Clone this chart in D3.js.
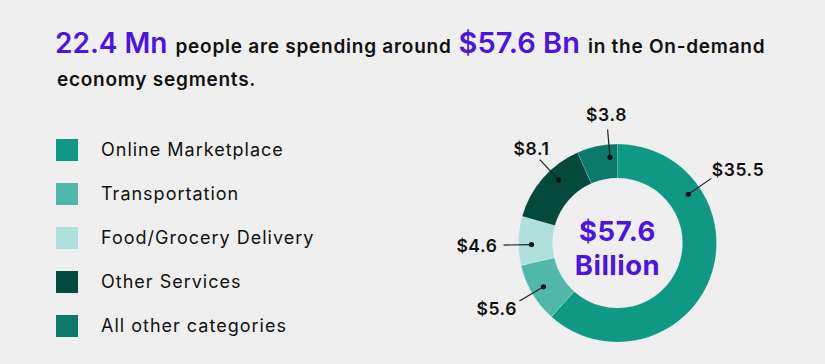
<!DOCTYPE html>
<html>
<head>
<meta charset="utf-8">
<script src="https://cdn.jsdelivr.net/npm/d3@7"></script>
<style>
  body { margin: 0; background: #efefef; }
  svg { display: block; font-family: Inter, "Noto Sans", sans-serif; }
</style>
</head>
<body>
<svg id="chart" width="825" height="364"></svg>
<script>
// data
var categories = ["Online Marketplace", "Transportation", "Food/Grocery Delivery", "Other Services", "All other categories"];
var values = [35.5, 5.6, 4.6, 8.1, 3.8];
var colors = ["#0f9884", "#4fb8ab", "#b0e0dc", "#03493e", "#0b7a6b"];
var labelAt = [0.25, 0.5, 0.42, 0.62, 0.79];   // where along each slice the callout sits
var totalText = "$57.6";
var totalUnit = "Billion";

var purple = "#4b14e3";

var svg = d3.select("#chart"),
    width = +svg.attr("width"),
    height = +svg.attr("height");

svg.append("rect").attr("width", width).attr("height", height).attr("fill", "#efefef");

// headline
var line1 = svg.append("text")
    .attr("x", 55).attr("y", 53)
    .attr("font-weight", 600)
    .attr("fill", "#111");
line1.append("tspan").attr("font-size", 28).attr("fill", purple).text("22.4 Mn");
line1.append("tspan").attr("font-size", 19).attr("letter-spacing", 0.75).attr("dx", 8).text("people are spending around");
line1.append("tspan").attr("font-size", 29).attr("fill", purple).attr("dx", 7).text("$57.6 Bn");
line1.append("tspan").attr("font-size", 19).attr("letter-spacing", 0.75).attr("dx", 8).text("in the On-demand");

svg.append("text")
    .attr("x", 57).attr("y", 86)
    .attr("font-size", 19).attr("letter-spacing", 0.75).attr("font-weight", 600).attr("fill", "#111")
    .text("economy segments.");

// legend
var legendY = d3.scalePoint().domain(categories).range([150, 326]);

var legend = svg.append("g").selectAll("g")
    .data(categories)
    .enter().append("g")
      .attr("transform", function(d) { return "translate(56," + legendY(d) + ")"; });

legend.append("rect")
    .attr("x", 0).attr("y", -11)
    .attr("width", 22).attr("height", 22)
    .attr("fill", function(d, i) { return colors[i]; });

legend.append("text")
    .attr("x", 45).attr("y", 0)
    .attr("dy", "0.36em")
    .attr("font-size", 18)
    .attr("letter-spacing", 1.0)
    .attr("fill", "#111")
    .text(function(d) { return d; });

// donut
var cx = 617.5, cy = 243, outerR = 99, innerR = 65;

var pie = d3.pie().sort(null).value(function(d) { return d; });
var arcs = pie(values);

var arc = d3.arc().innerRadius(innerR).outerRadius(outerR);

var g = svg.append("g").attr("transform", "translate(" + cx + "," + cy + ")");

g.selectAll("path")
    .data(arcs)
    .enter().append("path")
      .attr("d", arc)
      .attr("fill", function(d, i) { return colors[i]; })
      .attr("stroke", "rgba(255,255,255,0.25)")
      .attr("stroke-width", 0.6);

// callouts
function labelAngle(d, i) { return d.startAngle + (d.endAngle - d.startAngle) * labelAt[i]; }

var callout = g.selectAll(".callout")
    .data(arcs)
    .enter().append("g")
      .attr("class", "callout");

callout.append("line")
    .attr("x1", function(d, i) { return Math.sin(labelAngle(d, i)) * 86; })
    .attr("y1", function(d, i) { return -Math.cos(labelAngle(d, i)) * 86; })
    .attr("x2", function(d, i) { return Math.sin(labelAngle(d, i)) * 114; })
    .attr("y2", function(d, i) { return -Math.cos(labelAngle(d, i)) * 114; })
    .attr("stroke", "#222")
    .attr("stroke-width", 1.2);

callout.append("circle")
    .attr("cx", function(d, i) { return Math.sin(labelAngle(d, i)) * 86; })
    .attr("cy", function(d, i) { return -Math.cos(labelAngle(d, i)) * 86; })
    .attr("r", 2.6)
    .attr("fill", "#111");

callout.append("text")
    .attr("font-size", 17.5)
    .attr("font-weight", 600)
    .attr("letter-spacing", 0.6)
    .attr("fill", "#111")
    .attr("text-anchor", "middle")
    .attr("dy", "0.36em")
    .text(function(d) { return "$" + d.value; })
    .each(function(d, i) {
        var a = labelAngle(d, i),
            w = this.getComputedTextLength(),
            ex = Math.sin(a) * 114,
            ey = -Math.cos(a) * 114,
            s = Math.sin(a), c = Math.cos(a);
        // push the label out of the line end, mostly vertically when the line is steep
        var dx = Math.abs(c) > 0.7 ? s * 12 : s * (w / 2 + 6);
        d3.select(this)
            .attr("x", ex + dx)
            .attr("y", ey - c * 15);
    });

// centre total
g.append("text")
    .attr("text-anchor", "middle")
    .attr("y", -2)
    .attr("font-size", 27.5)
    .attr("font-weight", 700)
    .attr("letter-spacing", 0.5)
    .attr("fill", purple)
    .text(totalText);

g.append("text")
    .attr("text-anchor", "middle")
    .attr("y", 32)
    .attr("font-size", 27.5)
    .attr("font-weight", 700)
    .attr("letter-spacing", 0.5)
    .attr("fill", purple)
    .text(totalUnit);
</script>
</body>
</html>
